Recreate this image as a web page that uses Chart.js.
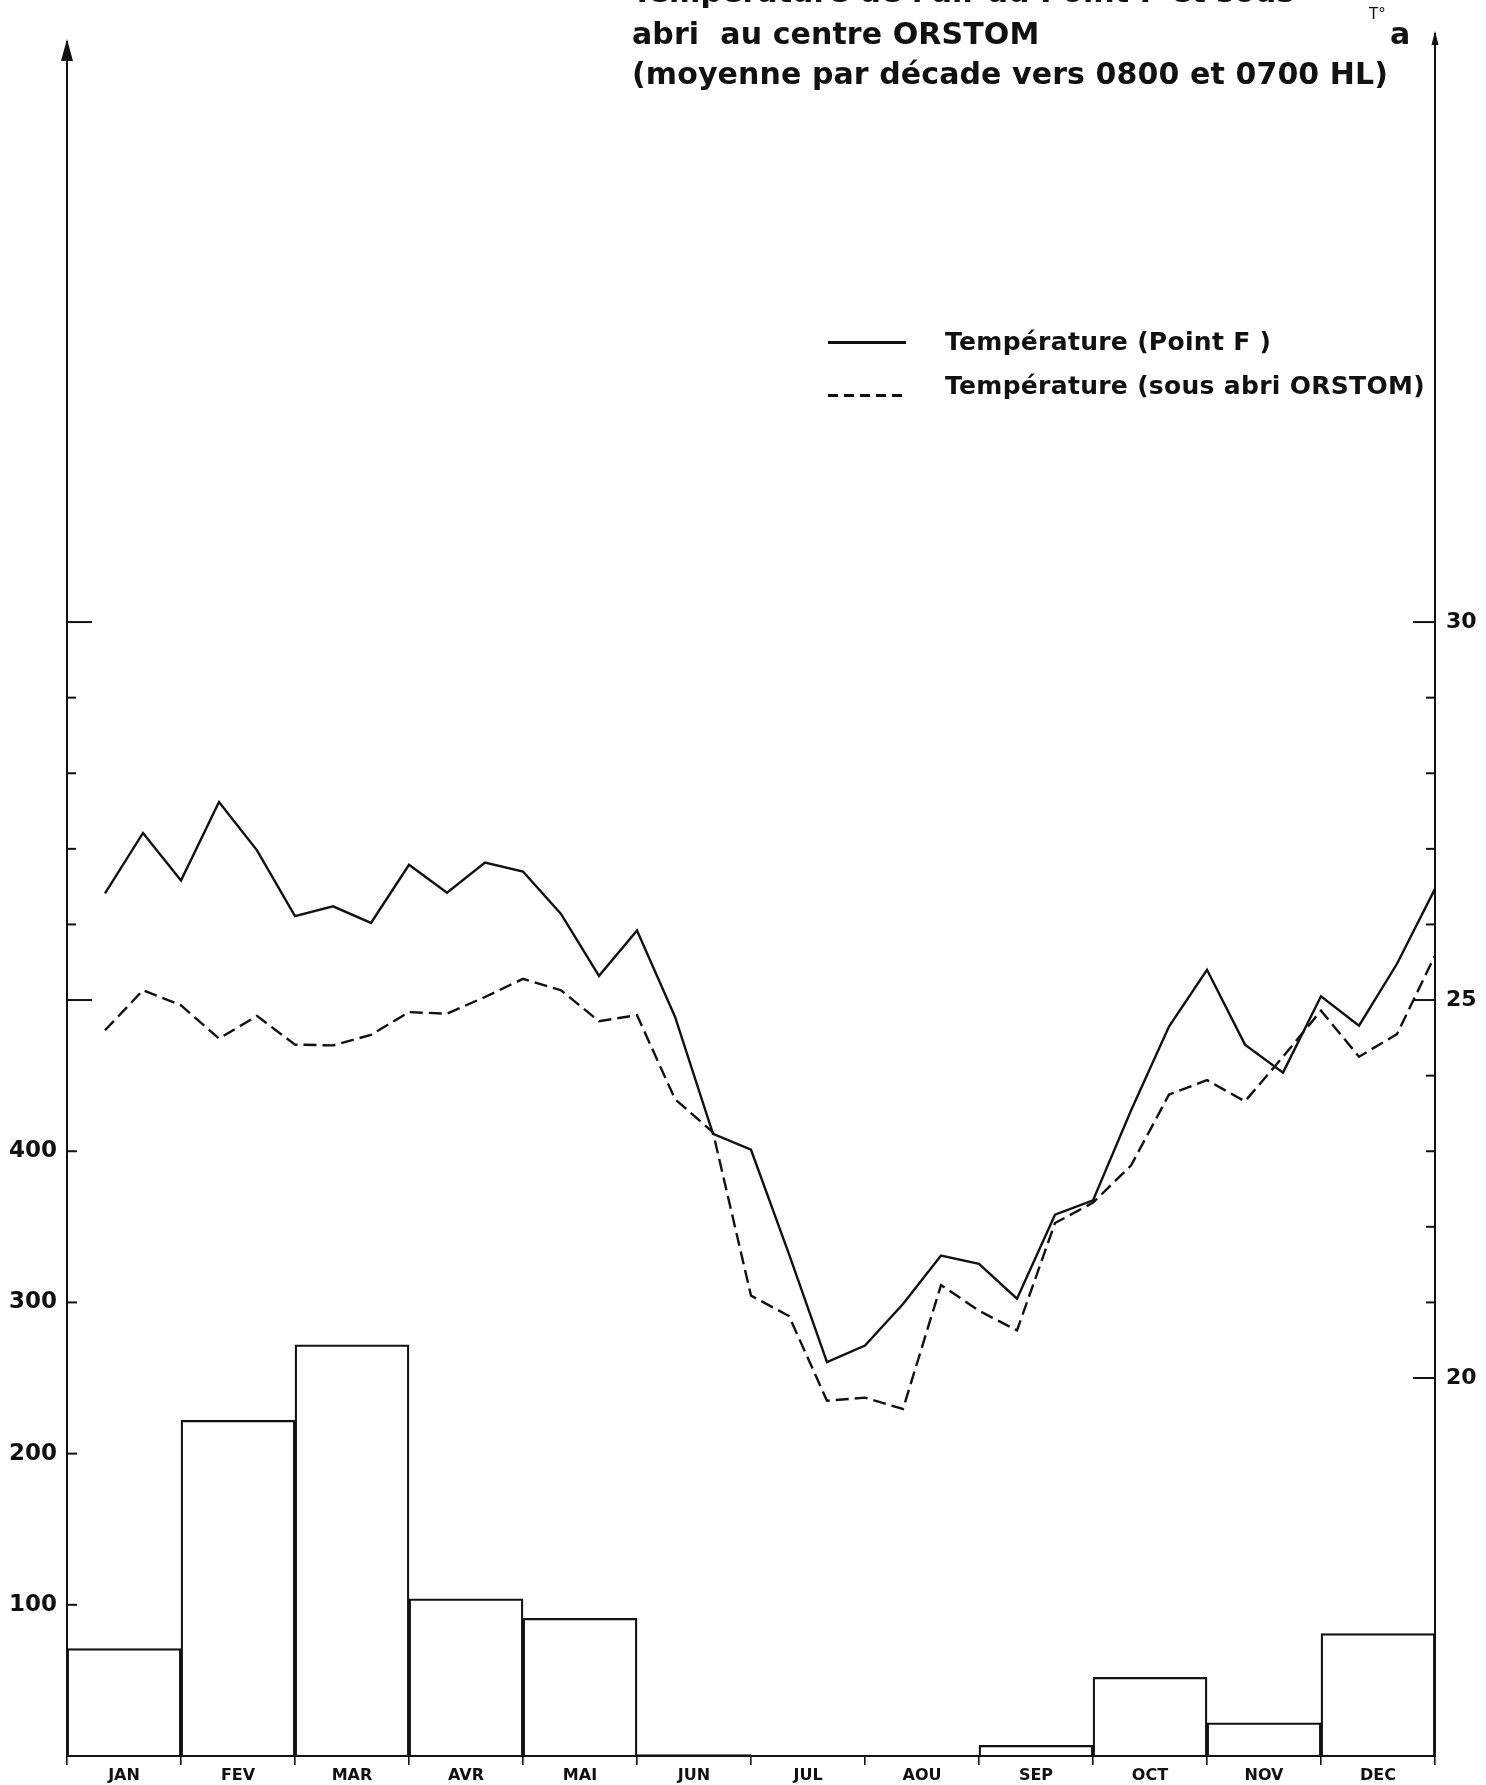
<!DOCTYPE html>
<html>
<head>
<meta charset="utf-8">
<script src="https://cdn.jsdelivr.net/npm/chart.js@4/dist/chart.umd.min.js"></script>
<style>
  html, body { margin: 0; padding: 0; background: #fff; }
  #wrap { position: relative; width: 1486px; height: 1785px; overflow: hidden; background: #fff; }
  #chart { position: absolute; left: 0; top: 0; }
  .txt { position: absolute; font-family: 'DejaVu Sans', sans-serif; font-weight: bold; color: #111; white-space: pre; }
  .title { left: 632px; font-size: 30px; line-height: 30px; letter-spacing: 0.1px; }
  .leg { left: 945px; font-size: 25px; line-height: 25px; letter-spacing: 0.3px; }
  .swatch { position: absolute; left: 828px; width: 78px; height: 2.5px; }
</style>
</head>
<body>
<div id="wrap">
  <canvas id="chart" width="1486" height="1785"></canvas>

  <div class="txt title" style="top:-23px">Température de l'air au Point F et sous</div>
  <div class="txt title" style="top:19px">abri  au centre ORSTOM</div>
  <div class="txt title" style="top:59px">(moyenne par décade vers 0800 et 0700 HL)</div>
  <div class="txt" style="left:1369px;top:7px;font-size:15px;line-height:15px;font-weight:normal">T°</div>
  <div class="txt" style="left:1390px;top:19px;font-size:30px;line-height:30px">a</div>

  <div class="swatch" style="top:341px;background:#111"></div>
  <div class="swatch" style="top:394px;background:repeating-linear-gradient(90deg,#111 0 10px,transparent 10px 16px)"></div>
  <div class="txt leg" style="top:329px">Température (Point F )</div>
  <div class="txt leg" style="top:373px">Température (sous abri ORSTOM)</div>
</div>

<script>
'use strict';

// Months (x categories for the rain bars)
const MONTHS = ['JAN', 'FEV', 'MAR', 'AVR', 'MAI', 'JUN', 'JUL', 'AOU', 'SEP', 'OCT', 'NOV', 'DEC'];

// Monthly rainfall (mm), left axis
const RAIN_MM = [71, 222, 272, 104, 91, 1, 0, 0, 7, 52, 22, 81];

// Temperature per decade (°C), right axis: 36 decades, each plotted at the end of its decade
const TEMP_POINT_F = [
  26.41, 27.21, 26.58, 27.62, 26.98, 26.11, 26.24, 26.02, 26.79,
  26.42, 26.82, 26.70, 26.14, 25.32, 25.92, 24.78, 23.23, 23.02,
  21.64, 20.21, 20.43, 20.98, 21.62, 21.51, 21.05, 22.16, 22.35,
  23.54, 24.65, 25.40, 24.41, 24.04, 25.05, 24.66, 25.48, 26.47
];
const TEMP_ABRI = [
  24.60, 25.13, 24.93, 24.49, 24.79, 24.41, 24.40, 24.54, 24.84,
  24.82, 25.04, 25.28, 25.13, 24.72, 24.80, 23.69, 23.25, 21.09,
  20.82, 19.70, 19.74, 19.59, 21.23, 20.89, 20.63, 22.05, 22.32,
  22.81, 23.75, 23.94, 23.66, 24.25, 24.86, 24.25, 24.55, 25.59
];

// Tick values
const RAIN_TICKS = [100, 200, 300, 400];
const TEMP_TICKS = [20, 21, 22, 23, 24, 25, 26, 27, 28, 29, 30];
const LEFT_TEMP_MARKS = [25, 26, 27, 28, 29, 30];

const INK = '#111';
const FONT = 'DejaVu Sans';

const decadePoints = arr => arr.map((v, i) => ({ x: i + 1, y: v }));

// inward tick marks and axis arrowheads
const axisDecor = {
  id: 'axisDecor',
  afterDraw(chart) {
    const { ctx, chartArea: a, scales } = chart;
    const yR = scales.yR, yT = scales.yT;
    ctx.save();
    ctx.strokeStyle = INK;
    ctx.fillStyle = INK;
    ctx.lineWidth = 2;
    const tick = (x, y, len) => {
      ctx.beginPath(); ctx.moveTo(x, y); ctx.lineTo(x + len, y); ctx.stroke();
    };
    RAIN_TICKS.forEach(v => tick(a.left, yR.getPixelForValue(v), 10));
    LEFT_TEMP_MARKS.forEach(v => tick(a.left, yT.getPixelForValue(v), v % 5 === 0 ? 25 : 9));
    TEMP_TICKS.forEach(v => tick(a.right, yT.getPixelForValue(v), v % 5 === 0 ? -22 : -9));

    const arrow = (x, tipY, half, h) => {
      ctx.beginPath();
      ctx.moveTo(x, tipY);
      ctx.lineTo(x + half, tipY + h);
      ctx.lineTo(x - half, tipY + h);
      ctx.closePath();
      ctx.fill();
    };
    ctx.beginPath(); ctx.moveTo(a.left, a.top); ctx.lineTo(a.left, a.top - 2); ctx.stroke();
    arrow(a.left, a.top - 4, 6, 22);
    ctx.beginPath(); ctx.moveTo(a.right, a.top); ctx.lineTo(a.right, a.top - 10); ctx.stroke();
    arrow(a.right, a.top - 12, 3.5, 14);
    ctx.restore();
  }
};

new Chart(document.getElementById('chart'), {
  type: 'bar',
  data: {
    labels: MONTHS,
    datasets: [
      {
        type: 'line',
        label: 'Température (Point F )',
        data: decadePoints(TEMP_POINT_F),
        xAxisID: 'xd', yAxisID: 'yT',
        borderColor: INK, borderWidth: 2.4,
        pointRadius: 0, tension: 0, fill: false,
      },
      {
        type: 'line',
        label: 'Température (sous abri ORSTOM)',
        data: decadePoints(TEMP_ABRI),
        xAxisID: 'xd', yAxisID: 'yT',
        borderColor: INK, borderWidth: 2.4, borderDash: [13, 6],
        pointRadius: 0, tension: 0, fill: false,
      },
      {
        type: 'bar',
        label: 'Pluie',
        data: RAIN_MM,
        xAxisID: 'xm', yAxisID: 'yR',
        backgroundColor: 'rgba(0,0,0,0)',
        borderColor: INK, borderWidth: 1.6,
        barPercentage: 1, categoryPercentage: 1, grouped: false,
      },
    ],
  },
  options: {
    responsive: false,
    animation: false,
    events: [],
    layout: { padding: { top: 43, left: 0, right: 0, bottom: 0 } },
    plugins: { legend: { display: false }, tooltip: { enabled: false } },
    scales: {
      xd: {
        type: 'linear', position: 'bottom', weight: 0, offset: false,
        min: 0, max: 36,
        afterBuildTicks: s => { s.ticks = MONTHS.concat(['']).map((m, i) => ({ value: i * 3 })); },
        ticks: { display: false },
        grid: { offset: false, drawOnChartArea: false, drawTicks: true, tickLength: 9, color: INK, lineWidth: 1.6 },
        border: { color: INK, width: 2 },
        afterFit: s => { s.height = 9; },
      },
      xm: {
        type: 'category', position: 'bottom', weight: 1, offset: true,
        grid: { display: false, drawTicks: false },
        border: { display: false },
        ticks: { color: INK, padding: 1, font: { family: FONT, size: 16, weight: 'bold' } },
        afterFit: s => { s.height = 20; },
      },
      yR: {
        type: 'linear', position: 'left',
        min: 0, max: 1133,
        afterBuildTicks: s => { s.ticks = RAIN_TICKS.map(v => ({ value: v })); },
        ticks: { color: INK, padding: 10, font: { family: FONT, size: 23, weight: 'bold' }, callback: v => String(v) },
        grid: { drawOnChartArea: false, drawTicks: false },
        border: { color: INK, width: 2 },
        afterFit: s => { s.width = 67; },
      },
      yT: {
        type: 'linear', position: 'right',
        min: 15, max: 37.66,
        afterBuildTicks: s => { s.ticks = TEMP_TICKS.map(v => ({ value: v })); },
        ticks: { color: INK, padding: 11, font: { family: FONT, size: 22, weight: 'bold' }, callback: v => (v % 5 === 0 ? String(v) : '') },
        grid: { drawOnChartArea: false, drawTicks: false },
        border: { color: INK, width: 2 },
        afterFit: s => { s.width = 51; },
      },
    },
  },
  plugins: [axisDecor],
});
</script>
</body>
</html>
